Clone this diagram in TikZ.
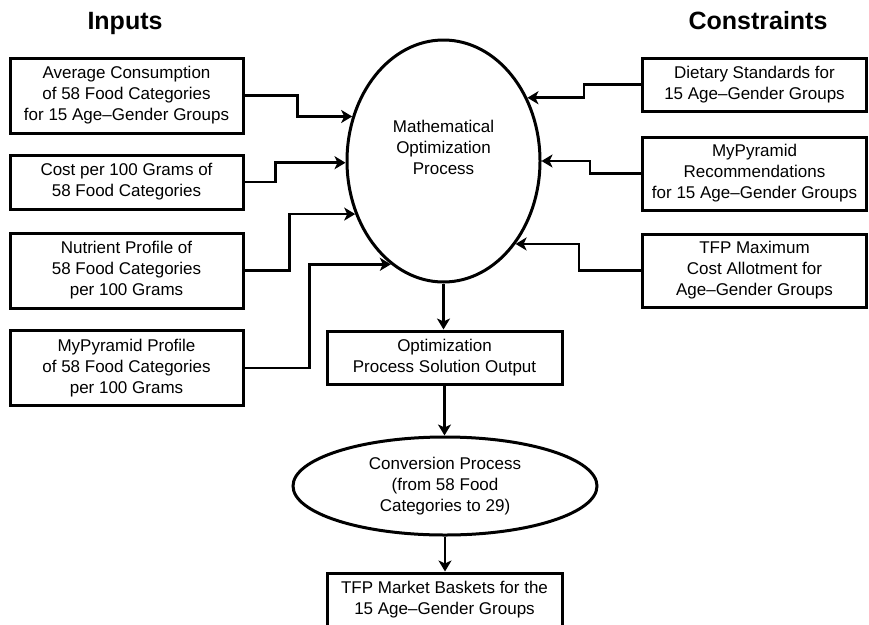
\documentclass[tikz,border=0pt]{standalone}
\usepackage{fontspec}
\setmainfont{Liberation Sans}
\usepackage{tikz}
\usetikzlibrary{positioning, shapes, shapes.geometric, arrows.meta, calc}

\tikzset{
    bodyfont/.style={font=\fontsize{17}{21}\selectfont},
    headfont/.style={font=\fontsize{25}{29}\selectfont\bfseries},
    inbox/.style={draw, line width=3pt, bodyfont, align=center, inner sep=0pt, minimum width=233pt},
    conbox/.style={draw, line width=3pt, bodyfont, align=center, inner sep=0pt, minimum width=224pt},
    procellipse/.style={draw, ellipse, line width=3pt, bodyfont, align=center, inner sep=0pt},
    arrowline/.style={line width=2.7pt, -{Stealth[length=11pt, width=13pt, inset=3pt]}}
}

\begin{document}
\begin{tikzpicture}[x=1pt, y=-1pt]
    \useasboundingbox (0,0) rectangle (869,624);

    % titles
    \node[headfont, anchor=base] (inputs) at (125,29) {Inputs};
    \node[headfont, anchor=base] (constraints) at (758,29) {Constraints};

    % central process
    \node[procellipse, minimum width=193pt, minimum height=242pt] (opt) at (443.5,161) {};
    \node[bodyfont, align=center] (optText) at (443.5,147) {Mathematical\\Optimization\\Process};

    % inputs
    \node[inbox, minimum height=75pt] (in1) at (126.5,95.5) {Average Consumption\\of 58 Food Categories\\for 15 Age--Gender Groups};
    \node[inbox, minimum height=54pt] (in2) at (126.5,182) {Cost per 100 Grams of\\58 Food Categories};
    \node[inbox, minimum height=75pt] (in3) at (126.5,270.5) {Nutrient Profile of\\58 Food Categories\\per 100 Grams};
    \node[inbox, minimum height=75pt] (in4) at (126.5,368) {MyPyramid Profile\\of 58 Food Categories\\per 100 Grams};

    % constraints
    \node[conbox, minimum height=53pt] (con1) at (754.5,84.5) {Dietary Standards for\\15 Age--Gender Groups};
    \node[conbox, minimum height=73pt] (con2) at (754.5,173.5) {MyPyramid\\Recommendations\\for 15 Age--Gender Groups};
    \node[conbox, minimum height=73pt] (con3) at (754.5,270.5) {TFP Maximum\\Cost Allotment for\\Age--Gender Groups};

    % output chain
    \node[inbox, minimum width=235pt, minimum height=53pt] (out) at (444.5,357.5) {Optimization\\Process Solution Output};
    \node[procellipse, minimum width=304pt, minimum height=98pt] (conv) at (445,486) {Conversion Process\\(from 58 Food\\Categories to 29)};
    \node[inbox, minimum width=235pt, minimum height=53pt] (baskets) at (444.5,599.5) {TFP Market Baskets for the\\15 Age--Gender Groups};

    % connectors into the process
    \foreach \n/\d/\a in {1/53/154, 2/31/181, 3/45/211, 4/65/243} {
        \draw[arrowline] (in\n.east) -- ++(\d,0) |- (opt.\a);
    }
    \foreach \n/\d/\a in {1/57/37.5, 2/51/0, 3/62/311} {
        \draw[arrowline] (con\n.west) -- ++(-\d,0) |- (opt.\a);
    }

    % downward flow
    \draw[arrowline] (opt.south) -- (opt.south |- out.north);
    \draw[arrowline] (out.south) -- (out.south |- conv.north);
    \draw[arrowline] (conv.south) -- (conv.south |- baskets.north);
\end{tikzpicture}
\end{document}
